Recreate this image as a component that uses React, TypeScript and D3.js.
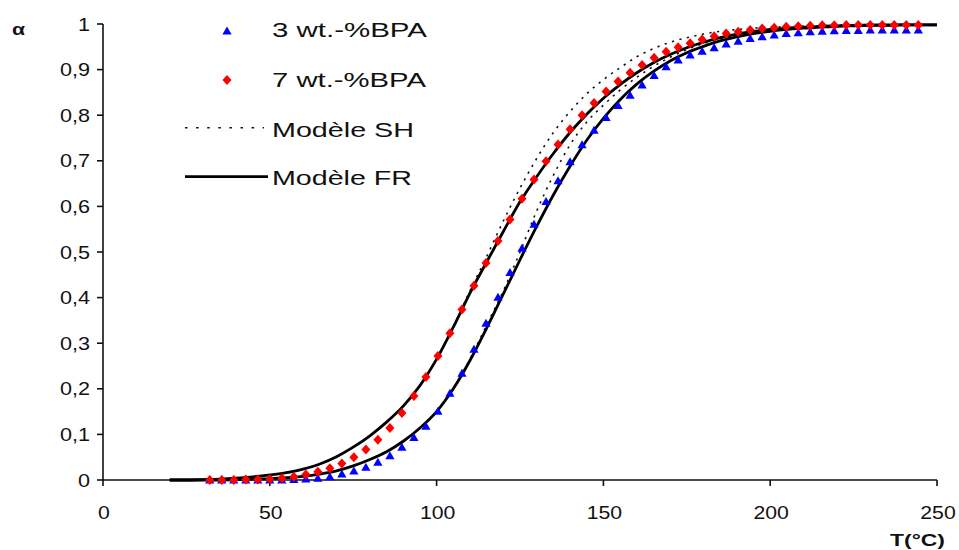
import React from "react";
import * as d3 from "d3";

// Experimental temperatures (°C)
const T_DATA = [32, 35.6, 39.2, 42.8, 46.4, 50, 53.6, 57.2, 60.8, 64.4, 68, 71.6, 75.2, 78.8, 82.4, 86, 89.6, 93.2, 96.8, 100.4, 104, 107.6, 111.2, 114.8, 118.4, 122, 125.6, 129.2, 132.8, 136.4, 140, 143.6, 147.2, 150.8, 154.4, 158, 161.6, 165.2, 168.8, 172.4, 176, 179.6, 183.2, 186.8, 190.4, 194, 197.6, 201.2, 204.8, 208.4, 212, 215.6, 219.2, 222.8, 226.4, 230, 233.6, 237.2, 240.8, 244.4];

// 3 wt.-%BPA (blue triangles)
const ALPHA_3 = [0, 0, 0, 0, 0, 0, 0, 0.001, 0.002, 0.004, 0.007, 0.013, 0.02, 0.028, 0.039, 0.053, 0.072, 0.093, 0.118, 0.151, 0.19, 0.234, 0.287, 0.344, 0.401, 0.455, 0.508, 0.561, 0.611, 0.656, 0.698, 0.735, 0.767, 0.795, 0.821, 0.844, 0.866, 0.887, 0.906, 0.921, 0.932, 0.94, 0.948, 0.956, 0.962, 0.968, 0.972, 0.976, 0.979, 0.981, 0.983, 0.984, 0.985, 0.986, 0.986, 0.987, 0.987, 0.987, 0.987, 0.987];

// 7 wt.-%BPA (red diamonds)
const ALPHA_7 = [0, 0, 0, 0.001, 0.001, 0.002, 0.004, 0.007, 0.012, 0.018, 0.026, 0.036, 0.05, 0.067, 0.088, 0.114, 0.147, 0.184, 0.226, 0.272, 0.322, 0.374, 0.426, 0.476, 0.524, 0.571, 0.617, 0.659, 0.699, 0.736, 0.769, 0.8, 0.827, 0.852, 0.874, 0.893, 0.91, 0.926, 0.939, 0.949, 0.958, 0.966, 0.973, 0.979, 0.983, 0.987, 0.99, 0.992, 0.994, 0.995, 0.996, 0.997, 0.997, 0.998, 0.998, 0.998, 0.998, 0.998, 0.998, 0.998];

// Model curves (temperatures)
const T_MODEL = [20, 25, 30, 35, 40, 45, 50, 55, 60, 65, 70, 75, 80, 85, 90, 95, 100, 105, 110, 115, 120, 125, 130, 135, 140, 145, 150, 155, 160, 165, 170, 175, 180, 185, 190, 195, 200, 205, 210, 215, 220, 225, 230, 235, 240, 245, 250];

// Modèle FR
const FR_7 = [0, 0, 0.001, 0.002, 0.004, 0.007, 0.011, 0.016, 0.024, 0.035, 0.051, 0.072, 0.097, 0.127, 0.162, 0.207, 0.265, 0.335, 0.41, 0.478, 0.545, 0.61, 0.665, 0.716, 0.762, 0.802, 0.837, 0.867, 0.893, 0.915, 0.933, 0.948, 0.96, 0.97, 0.978, 0.984, 0.988, 0.991, 0.993, 0.995, 0.996, 0.997, 0.998, 0.998, 0.998, 0.998, 0.998];
const FR_3 = [0, 0, 0, 0, 0.001, 0.002, 0.003, 0.005, 0.008, 0.013, 0.02, 0.031, 0.045, 0.062, 0.085, 0.114, 0.15, 0.2, 0.262, 0.333, 0.408, 0.483, 0.556, 0.625, 0.688, 0.745, 0.793, 0.834, 0.868, 0.896, 0.919, 0.937, 0.951, 0.963, 0.972, 0.979, 0.984, 0.988, 0.991, 0.993, 0.995, 0.996, 0.997, 0.997, 0.998, 0.998, 0.998];

// Modèle SH
const T_SH = [30, 35, 40, 45, 50, 55, 60, 65, 70, 75, 80, 85, 90, 95, 100, 105, 110, 115, 120, 125, 130, 135, 140, 145, 150, 155, 160, 165, 170, 175, 180, 185, 190, 195, 200, 205, 210, 215, 220, 225, 230, 235, 240, 245, 250];
const SH_7 = [0.001, 0.002, 0.004, 0.007, 0.011, 0.016, 0.024, 0.035, 0.051, 0.072, 0.097, 0.127, 0.162, 0.207, 0.265, 0.336, 0.415, 0.49, 0.568, 0.64, 0.705, 0.762, 0.808, 0.847, 0.878, 0.904, 0.928, 0.946, 0.96, 0.97, 0.978, 0.984, 0.988, 0.991, 0.993, 0.994, 0.995, 0.996, 0.997, 0.997, 0.998, 0.998, 0.998, 0.998, 0.998];
const SH_3 = [0, 0, 0.001, 0.002, 0.003, 0.005, 0.008, 0.013, 0.02, 0.031, 0.045, 0.062, 0.085, 0.114, 0.15, 0.2, 0.265, 0.34, 0.415, 0.5, 0.59, 0.668, 0.735, 0.785, 0.822, 0.855, 0.883, 0.907, 0.927, 0.944, 0.957, 0.967, 0.975, 0.981, 0.986, 0.989, 0.992, 0.994, 0.995, 0.996, 0.997, 0.997, 0.998, 0.998, 0.998];

const X_TICKS = [0, 50, 100, 150, 200, 250];
const Y_TICKS = [0, 0.1, 0.2, 0.3, 0.4, 0.5, 0.6, 0.7, 0.8, 0.9, 1];
const Y_TICK_LABELS = ["0", "0,1", "0,2", "0,3", "0,4", "0,5", "0,6", "0,7", "0,8", "0,9", "1"];
const LEGEND_LABELS = ["3 wt.-%BPA", "7 wt.-%BPA", "Modèle SH", "Modèle FR"];

const FONT = "'Liberation Sans', Arial, sans-serif";
const TRI = "M0,-4.5L4.6,3.5L-4.6,3.5Z";
const DIA = "M0,-5L4.5,0L0,5L-4.5,0Z";

export default function App() {
  const x = d3.scaleLinear().domain([0, 250]).range([103, 937]);
  const y = d3.scaleLinear().domain([0, 1]).range([480, 24]);
  const line = (ts: number[], vs: number[]) =>
    d3
      .line<number>()
      .x((_, i) => x(ts[i]))
      .y((v) => y(v))
      .curve(d3.curveMonotoneX)(vs) as string;

  return (
    <svg
      width={959}
      height={550}
      style={{ position: "absolute", left: 0, top: 0, background: "#fff" }}
      fontFamily={FONT}
    >
      <rect width={959} height={550} fill="#fff" />
      {/* axes */}
      <line x1={x(0)} x2={x(0)} y1={y(0)} y2={y(1)} stroke="#111" strokeWidth={1.6} />
      <line x1={x(0)} x2={x(250)} y1={y(0)} y2={y(0)} stroke="#111" strokeWidth={1.6} />
      {Y_TICKS.map((t, i) => (
        <g key={"y" + i}>
          <line x1={x(0) - 6} x2={x(0)} y1={y(t)} y2={y(t)} stroke="#111" strokeWidth={1.6} />
          <g transform={`translate(90,${y(t) + 6.5}) scale(1.2,1)`}>
            <text textAnchor="end" fontSize={18} fill="#111">
              {Y_TICK_LABELS[i]}
            </text>
          </g>
        </g>
      ))}
      {X_TICKS.map((t) => (
        <g key={"x" + t}>
          <line x1={x(t)} x2={x(t)} y1={y(0)} y2={y(0) + 6} stroke="#111" strokeWidth={1.6} />
          <g transform={`translate(${x(t) + 1},${518.5}) scale(1.18,1)`}>
            <text textAnchor="middle" fontSize={18} fill="#111">
              {t}
            </text>
          </g>
        </g>
      ))}
      {/* axis titles */}
      <g transform="translate(12,35) scale(1.25,1)">
        <text fontSize={17} fontWeight="bold" fill="#111">α</text>
      </g>
      <text x={890} y={546} fontSize={17} fontWeight="bold" fill="#111" textLength={55} lengthAdjust="spacingAndGlyphs">
        T(°C)
      </text>

      {/* model curves */}
      <path d={line(T_SH, SH_7)} fill="none" stroke="#111" strokeWidth={1.6} strokeDasharray="2.2,5.5" />
      <path d={line(T_SH, SH_3)} fill="none" stroke="#111" strokeWidth={1.6} strokeDasharray="2.2,5.5" />
      <path d={line(T_MODEL, FR_7)} fill="none" stroke="#000" strokeWidth={2.8} />
      <path d={line(T_MODEL, FR_3)} fill="none" stroke="#000" strokeWidth={2.8} />

      {/* data markers */}
      {T_DATA.map((t, i) => (
        <path key={"b" + i} d={TRI} transform={`translate(${x(t)},${y(ALPHA_3[i])})`} fill="#0000ff" />
      ))}
      {T_DATA.map((t, i) => (
        <path key={"r" + i} d={DIA} transform={`translate(${x(t)},${y(ALPHA_7[i])})`} fill="#ff0000" />
      ))}

      {/* legend */}
      <path d={TRI} transform="translate(227,31)" fill="#0000ff" />
      <path d={DIA} transform="translate(227,80)" fill="#ff0000" />
      <line x1={185} x2={264} y1={127.7} y2={127.7} stroke="#111" strokeWidth={1.6} strokeDasharray="2.5,8.6" />
      <line x1={185} x2={268} y1={176.7} y2={176.7} stroke="#000" strokeWidth={2.8} />
      {[37, 87, 137, 185].map((by, i) => (
        <text
          key={"l" + i}
          x={272}
          y={by}
          fontSize={21}
          fill="#111"
          textLength={[155, 154, 142, 140][i]}
          lengthAdjust="spacingAndGlyphs"
        >
          {LEGEND_LABELS[i]}
        </text>
      ))}
    </svg>
  );
}
